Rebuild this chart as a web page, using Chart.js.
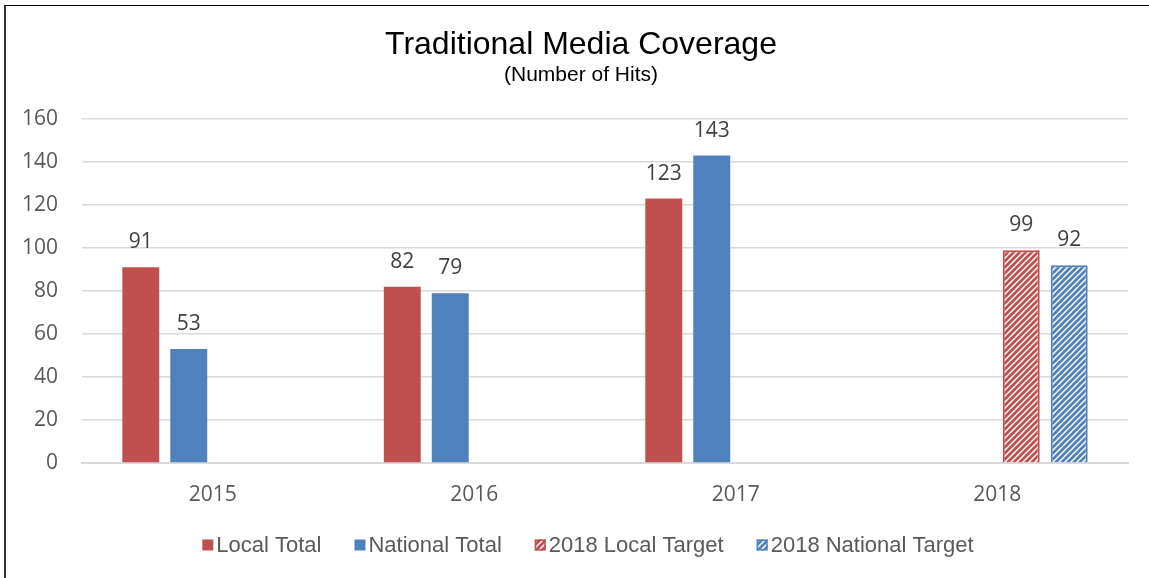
<!DOCTYPE html>
<html>
<head>
<meta charset="utf-8">
<script src="https://cdn.jsdelivr.net/npm/chart.js@4.4.1/dist/chart.umd.min.js"></script>
<style>
  html, body { margin: 0; padding: 0; background: #fff; }
  #wrap { position: relative; width: 1149px; height: 578px; overflow: hidden; }
  #frame { position: absolute; left: 4px; top: 5px; width: 1200px; height: 700px;
           border-left: 2px solid #333; border-top: 1px solid #000; pointer-events: none; }
  canvas { position: absolute; left: 0; top: 0; }
</style>
</head>
<body>
<div id="wrap">
  <canvas id="chart" width="1149" height="578"></canvas>
  <div id="frame"></div>
</div>
<script>
// Years on the category axis
const categories = ['2015', '2016', '2017', '2018'];
// Actual hits per year
const localTotal = [91, 82, 123, null];
const nationalTotal = [53, 79, 143, null];
// 2018 targets
const localTarget2018 = [null, null, null, 99];
const nationalTarget2018 = [null, null, null, 92];
// Value axis ticks
const yTicks = [0, 20, 40, 60, 80, 100, 120, 140, 160];

const RED = '#C0504D';
const BLUE = '#4F81BD';

// Upward diagonal hatch fill
function hatch(color) {
  const size = 6;
  const c = document.createElement('canvas');
  c.width = size; c.height = size;
  const g = c.getContext('2d');
  g.fillStyle = '#fff';
  g.fillRect(0, 0, size, size);
  g.strokeStyle = color;
  g.lineWidth = 2.8;
  g.lineCap = 'square';
  g.beginPath();
  g.moveTo(-size, size); g.lineTo(size, -size);
  g.moveTo(0, size); g.lineTo(size, 0);
  g.moveTo(0, 2 * size); g.lineTo(2 * size, 0);
  g.stroke();
  return g.createPattern(c, 'repeat');
}

const tickFont = { family: '"Open Sans", sans-serif', size: 21 };

// Title blocks sit a little right of the canvas centre
const titleShift = {
  id: 'titleShift',
  afterLayout(chart) {
    chart.boxes.forEach(b => {
      if (b.options && typeof b.options.text === 'string' && b.options.position === 'top') {
        b.left += 17;
        b.right += 17;
      }
    });
  }
};

// Value labels above each bar
const valueLabels = {
  id: 'valueLabels',
  afterDatasetsDraw(chart) {
    const ctx = chart.ctx;
    ctx.save();
    ctx.font = '21px "Open Sans", sans-serif';
    ctx.fillStyle = '#404040';
    ctx.textAlign = 'center';
    ctx.textBaseline = 'middle';
    chart.data.datasets.forEach((ds, i) => {
      const meta = chart.getDatasetMeta(i);
      meta.data.forEach((el, j) => {
        const v = ds.data[j];
        if (v === null || v === undefined) return;
        ctx.fillText(String(v), el.x, el.y - 25);
      });
    });
    ctx.restore();
  }
};

// Legend row along the bottom
const bottomLegend = {
  id: 'bottomLegend',
  afterDraw(chart) {
    const ctx = chart.ctx;
    ctx.save();
    ctx.font = '22px "Liberation Sans", Arial, sans-serif';
    ctx.textBaseline = 'middle';
    const box = 11, gapText = 3, gapItem = 33;
    const items = chart.data.datasets.map(ds => ({
      text: ds.label, fill: ds.backgroundColor, stroke: ds.borderColor,
      bw: ds.borderWidth, w: ctx.measureText(ds.label).width
    }));
    let total = 0;
    items.forEach((it, i) => { total += box + gapText + it.w + (i < items.length - 1 ? gapItem : 0); });
    let x = 588 - total / 2;
    const y = 545;
    items.forEach(it => {
      ctx.fillStyle = it.fill;
      ctx.fillRect(x, y - box / 2, box, box);
      if (it.bw) {
        ctx.strokeStyle = it.stroke;
        ctx.lineWidth = 1.5;
        ctx.strokeRect(x + 0.75, y - box / 2 + 0.75, box - 1.5, box - 1.5);
      }
      ctx.fillStyle = '#595959';
      ctx.fillText(it.text, x + box + gapText, y + 1);
      x += box + gapText + it.w + gapItem;
    });
    ctx.restore();
  }
};

new Chart(document.getElementById('chart'), {
  type: 'bar',
  data: {
    labels: categories,
    datasets: [
      { label: 'Local Total', data: localTotal, backgroundColor: RED, borderWidth: 0 },
      { label: 'National Total', data: nationalTotal, backgroundColor: BLUE, borderWidth: 0 },
      { label: '2018 Local Target', data: localTarget2018, backgroundColor: hatch(RED), borderColor: RED, borderWidth: 2 },
      { label: '2018 National Target', data: nationalTarget2018, backgroundColor: hatch(BLUE), borderColor: BLUE, borderWidth: 2 }
    ]
  },
  options: {
    responsive: false,
    animation: false,
    devicePixelRatio: 1,
    categoryPercentage: 0.734,
    barPercentage: 0.77,
    layout: { padding: { top: 0, left: 0, right: 21, bottom: 60 } },
    plugins: {
      legend: { display: false },
      tooltip: { enabled: false },
      title: {
        display: true,
        text: 'Traditional Media Coverage',
        color: '#000',
        font: { family: '"Liberation Sans", Arial, sans-serif', size: 32, weight: 'normal', lineHeight: 1.0 },
        padding: { top: 29, bottom: 0 }
      },
      subtitle: {
        display: true,
        text: '(Number of Hits)',
        color: '#000',
        font: { family: '"Liberation Sans", Arial, sans-serif', size: 21, weight: 'normal', lineHeight: 1.0 },
        padding: { top: 3.5, bottom: 33.5 }
      }
    },
    scales: {
      x: {
        grid: { display: false, drawTicks: false },
        border: { display: true, color: '#D9D9D9', width: 2 },
        ticks: { color: '#595959', font: tickFont, padding: 19 },
        afterFit(scale) { scale.height = 578 - 463 - 60; }
      },
      y: {
        min: 0, max: 160,
        afterBuildTicks(scale) { scale.ticks = yTicks.map(v => ({ value: v })); },
        grid: { color: '#D9D9D9', lineWidth: 1.5, drawTicks: false },
        border: { display: false },
        ticks: { color: '#595959', font: tickFont, padding: 24 },
        afterFit(scale) { scale.width = 82; }
      }
    }
  },
  plugins: [titleShift, valueLabels, bottomLegend]
});
</script>
</body>
</html>
